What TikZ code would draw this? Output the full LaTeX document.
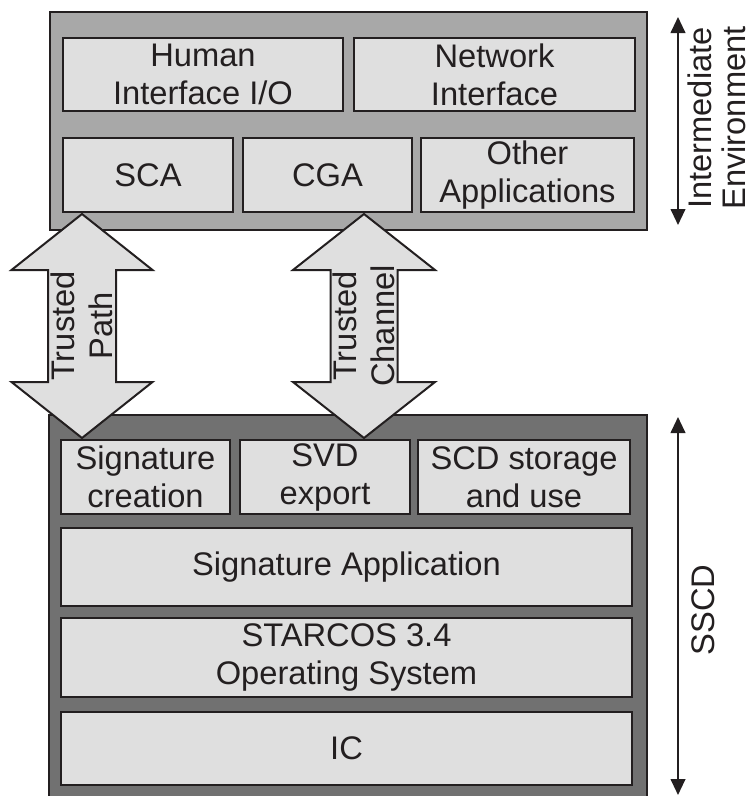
\documentclass[tikz,border=0pt]{standalone}
\usepackage{fontspec}
\setmainfont{Liberation Sans}
\usepackage{tikz}
\usetikzlibrary{arrows.meta, fit, calc, positioning}
\definecolor{envgray}{HTML}{A8A8A8}
\definecolor{sscdgray}{HTML}{717171}
\definecolor{boxgray}{HTML}{DFDFDF}
\definecolor{inkline}{HTML}{231F20}
\tikzstyle{outer} = [draw=inkline, line width=2pt, inner sep=0pt]
\tikzstyle{layer} = [draw=inkline, line width=2pt, fill=boxgray, inner sep=0pt, align=center, text=inkline, font=\fontsize{24.5}{28.5}\selectfont]
\tikzstyle{channel} = [draw=inkline, line width=1.5pt, fill=boxgray, line join=miter]
\tikzstyle{spanarrow} = [draw=inkline, line width=1.5pt, {Triangle[width=11pt,length=12pt]}-{Triangle[width=11pt,length=12pt]}]
\tikzstyle{sidelabel} = [rotate=90, align=center, text=inkline, inner sep=0pt, font=\fontsize{24.5}{28.5}\selectfont]
\tikzset{dims/.style 2 args={minimum width=#1*0.75pt, minimum height=#2*0.75pt}}

\begin{document}
\begin{tikzpicture}[x=0.75pt, y=-0.75pt]
            \useasboundingbox (0,0) rectangle (753,796);
            % intermediate environment
            \node[outer, fill=envgray, fit={(50,12) (647,230)}] (env) {};
            \node[layer, dims={280}{73}] (hci) at (203,74.5) {Human\\Interface I/O};
            \node[layer, dims={281}{73}] (net) at (494.5,74.5) {Network\\Interface};
            \node[layer, dims={170}{74}] (sca) at (148,175) {SCA};
            \node[layer, dims={169}{74}] (cga) at (327.5,175) {CGA};
            \node[layer, dims={213}{74}] (other) at (527.5,175) {Other\\Applications};
            % SSCD
            \node[outer, fill=sscdgray, fit={(49,415) (647,806)}] (sscd) {};
            \node[layer, dims={169}{74}] (sigcr) at (145.5,477) {Signature\\creation};
            \node[layer, dims={170}{74}] (svd) at (325,477) {SVD\\export};
            \node[layer, dims={212}{74}] (scd) at (524,477) {SCD storage\\and use};
            \node[layer, dims={571}{78}] (sigapp) at (346.5,567) {Signature Application};
            \node[layer, dims={571}{79}] (os) at (346.5,657.5) {STARCOS 3.4\\Operating System};
            \node[layer, dims={571}{73}] (ic) at (346.5,748.5) {IC};
            % trusted path / channel
            \coordinate (tpTop) at (82,214);
            \coordinate (tpBot) at (82,438);
            \coordinate (tcTop) at (364,214);
            \coordinate (tcBot) at (364,438);
            \draw[channel] (tpTop) -- ++(70.5,56) -- ++(-36.5,0) -- ++(0,112) -- ++(36.5,0) -- (tpBot)
                -- ++(-70.5,-56) -- ++(36.5,0) -- ++(0,-112) -- ++(-36.5,0) -- cycle;
            \draw[channel] (tcTop) -- ++(71,56) -- ++(-37.5,0) -- ++(0,112) -- ++(37.5,0) -- (tcBot)
                -- ++(-71,-56) -- ++(37.5,0) -- ++(0,-112) -- ++(-37.5,0) -- cycle;
            \node[sidelabel] (tplabel) at ($(tpTop)!0.5!(tpBot)$) {Trusted\\Path};
            \node[sidelabel] (tclabel) at ($(tcTop)!0.5!(tcBot)$) {Trusted\\Channel};
            % extents
            \coordinate (envTop) at (678,17);
            \coordinate (envBot) at (678,225);
            \coordinate (sscdTop) at (678,417);
            \coordinate (sscdBot) at (678,795);
            \draw[spanarrow] (envTop) -- (envBot);
            \draw[spanarrow] (sscdTop) -- (sscdBot);
            \node[sidelabel, font=\fontsize{24.5}{25.5}\selectfont] (envlabel) at (717,118) {Intermediate\\Environment};
            \node[sidelabel] (sscdlabel) at (703,610) {SSCD};
        \end{tikzpicture}
\end{document}
